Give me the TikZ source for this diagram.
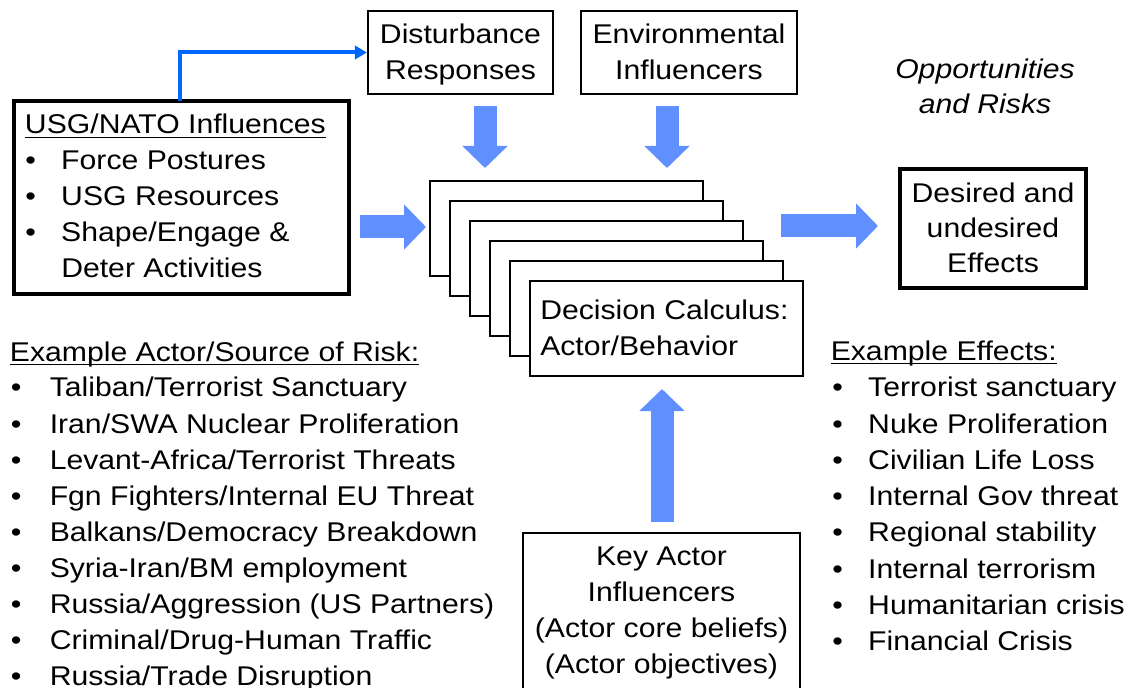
\documentclass[tikz,border=0pt]{standalone}
\usepackage{fontspec}
\setmainfont[FakeStretch=1.115]{Liberation Sans}
\usetikzlibrary{arrows.meta,fit}
\definecolor{connblue}{RGB}{0,102,255}
\definecolor{blockblue}{RGB}{96,144,255}
\newcommand{\myul}[1]{\setbox0\hbox{#1}\rlap{\rule[-3.3pt]{\wd0}{1.3pt}}\box0}
\newcommand{\bul}[1]{\makebox[#1][l]{\textbullet}}
\begin{document}
\begin{tikzpicture}[x=0.75pt,y=-0.75pt,
  every node/.style={inner sep=0pt, font=\fontsize{20.3}{24}\selectfont},
  thinbox/.style={draw, line width=1.7pt, fill=white},
  thickbox/.style={draw, line width=3pt},
  txt/.style={anchor=base west},
  ctxt/.style={anchor=base},
  blockarrow/.style={draw=blockblue, line width=17.25pt,
    -{Triangle[length=16.5pt, width=33pt, fill=blockblue, color=blockblue]}},
  connector/.style={draw=connblue, line width=3pt,
    -{Triangle[length=9pt, width=10pt, fill=connblue, color=connblue]}}]
\clip (0,0) rectangle (1133,688);
\fill[white] (0,0) rectangle (1133,688);

% boxes
\node[fit={(14,101) (349,294)}, thickbox] (usg) {};
\node[fit={(368,11) (553,94)}, thinbox] (dist) {};
\node[fit={(581,11) (797,94)}, thinbox] (env) {};
\foreach \i in {0,...,5}{
  \node[fit={(430+20*\i,181+20*\i) (703+20*\i,276+20*\i)}, thinbox] (stack\i) {};
}
\node[fit={(900,169) (1086,288)}, thickbox] (desired) {};
\node[fit={(523,533) (800,720)}, thinbox] (key) {};

% connector
\coordinate (usgtop) at (180,101);
\draw[connector] (usgtop) |- (dist.west);

% block arrows
\coordinate (d1s) at (485,106); \coordinate (d1e) at (485,168);
\coordinate (d2s) at (667,106); \coordinate (d2e) at (667,168);
\coordinate (ls) at (360,227);  \coordinate (le) at (426,227);
\coordinate (rs) at (781,226);  \coordinate (re) at (878,226);
\coordinate (us) at (662,522);  \coordinate (ue) at (662,389);
\draw[blockarrow] (d1s) -- (d1e);
\draw[blockarrow] (d2s) -- (d2e);
\draw[blockarrow] (ls) -- (le);
\draw[blockarrow] (rs) -- (re);
\draw[blockarrow] (us) -- (ue);

% texts in boxes
\node[txt] (usgh) at (24.7,134) {\myul{USG/NATO Influences}};
\node[txt] (usg1) at (25,170) {\bul{27pt}Force Postures};
\node[txt] (usg2) at (25,206) {\bul{27pt}USG Resources};
\node[txt] (usg3) at (25,242) {\bul{27pt}Shape/Engage \&};
\node[txt] (usg4) at (25,278) {\hspace{27pt}Deter Activities};

\node[ctxt] (dist1) at (460.5,44) {Disturbance};
\node[ctxt] (dist2) at (460.5,80) {Responses};
\node[ctxt] (env1) at (689,44) {Environmental};
\node[ctxt] (env2) at (689,80) {Influencers};

\node[ctxt] (opp1) at (985,79) {\itshape Opportunities};
\node[ctxt] (opp2) at (985,114) {\itshape and Risks};

\node[txt] (dec1) at (540,320) {Decision Calculus:};
\node[txt] (dec2) at (540,355) {Actor/Behavior};

\node[ctxt] (des1) at (993,203) {Desired and};
\node[ctxt] (des2) at (993,238) {undesired};
\node[ctxt] (des3) at (993,273) {Effects};

\node[ctxt] (key1) at (661.5,565) {Key Actor};
\node[ctxt] (key2) at (661.5,601) {Influencers};
\node[ctxt] (key3) at (661.5,637) {(Actor core beliefs)};
\node[ctxt] (key4) at (661.5,673) {(Actor objectives)};

% left list
\node[txt] (riskh) at (9.7,361) {\myul{Example Actor/Source of Risk:}};
\foreach \t [count=\k from 0] in {Taliban/Terrorist Sanctuary,
  Iran/SWA Nuclear Proliferation,
  Levant-Africa/Terrorist Threats,
  Fgn Fighters/Internal EU Threat,
  Balkans/Democracy Breakdown,
  Syria-Iran/BM employment,
  Russia/Aggression (US Partners),
  Criminal/Drug-Human Traffic,
  Russia/Trade Disruption}{
  \node[txt] (risk\k) at (10.5,397+36*\k) {\bul{29.25pt}\t};
}

% right list
\node[txt] (effh) at (830.5,360) {\myul{Example Effects:}};
\foreach \t [count=\k from 0] in {Terrorist sanctuary,
  Nuke Proliferation,
  Civilian Life Loss,
  Internal Gov threat,
  Regional stability,
  Internal terrorism,
  Humanitarian crisis,
  Financial Crisis}{
  \node[txt] (eff\k) at (832,397+36.2*\k) {\bul{27pt}\t};
}
\end{tikzpicture}
\end{document}
